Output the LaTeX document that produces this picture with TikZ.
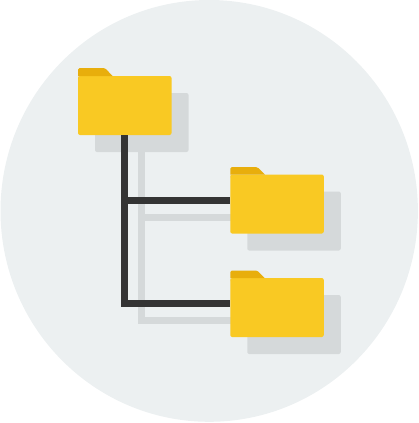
\documentclass[tikz,border=0pt]{standalone}
\usepackage{tikz}
\usetikzlibrary{positioning,shapes.geometric}
\definecolor{Disc}{HTML}{ECF0F1}
\definecolor{Shade}{HTML}{D5D9DA}
\definecolor{Body}{HTML}{F9C923}
\definecolor{Tab}{HTML}{E8AE0C}
\definecolor{Wire}{HTML}{343434}

\begin{document}
\begin{tikzpicture}[x=1pt, y=-1pt]
	\tikzstyle{Plate}	= [ellipse, fill=Disc, minimum width=417.4pt, minimum height=421.8pt, inner sep=0pt, outer sep=0pt]
	\tikzstyle{Box}		= [rectangle, rounded corners=2pt, minimum width=93.5pt, minimum height=59pt, inner sep=0pt, outer sep=0pt]
	\tikzstyle{Folder}	= [Box, fill=Body]
	\tikzstyle{Cast}	= [Box, fill=Shade]
	\tikzstyle{Link}	= [line width=7pt, Wire]
	\tikzstyle{CastLink}	= [line width=7pt, Shade]
	\tikzstyle{Flap}	= [fill=Tab, rounded corners=1.5pt]

	\useasboundingbox (0, 0) rectangle (418, 423);
	\node (plate) at (209.2, 210.9) [Plate] {};

	% shadows first
	\node (castA) at (141.75, 122.5) [Cast] {};
	\node (castB) at (294, 221) [Cast] {};
	\node (castC) at (294, 324.5) [Cast] {};
	\coordinate (castJoinB) at (141.75, 217.2);
	\coordinate (castJoinC) at (141.75, 320.8);
	\draw [-] (castA.south) |- (castJoinC -| castC.west) [CastLink];
	\draw [-] (castJoinB) -- (castJoinB -| castB.west) [CastLink];

	% folders
	\node (folderA) at (124.75, 105.5) [Folder] {};
	\node (folderB) at (277, 204) [Folder] {};
	\node (folderC) at (277, 307.5) [Folder] {};
	\coordinate (joinB) at (124.75, 200.3);
	\coordinate (joinC) at (124.75, 303.8);

	\draw [-] (folderA.south) |- (joinC -| folderC.west) [Link];
	\draw [-] (joinB) -- (joinB -| folderB.west) [Link];

	\fill [Flap] (folderA.north west) ++(0, 3) -- ++(0, -11) -- ++(27, 0) [sharp corners] -- ++(7.5, 8) -- ++(-34.5, 0) -- cycle;
	\fill [Flap] (folderB.north west) ++(0, 3) -- ++(0, -10.5) -- ++(27, 0) [sharp corners] -- ++(7.5, 7.5) -- ++(-34.5, 0) -- cycle;
	\fill [Flap] (folderC.north west) ++(0, 3) -- ++(0, -10.5) -- ++(27, 0) [sharp corners] -- ++(7.5, 7.5) -- ++(-34.5, 0) -- cycle;
\end{tikzpicture}
\end{document}
